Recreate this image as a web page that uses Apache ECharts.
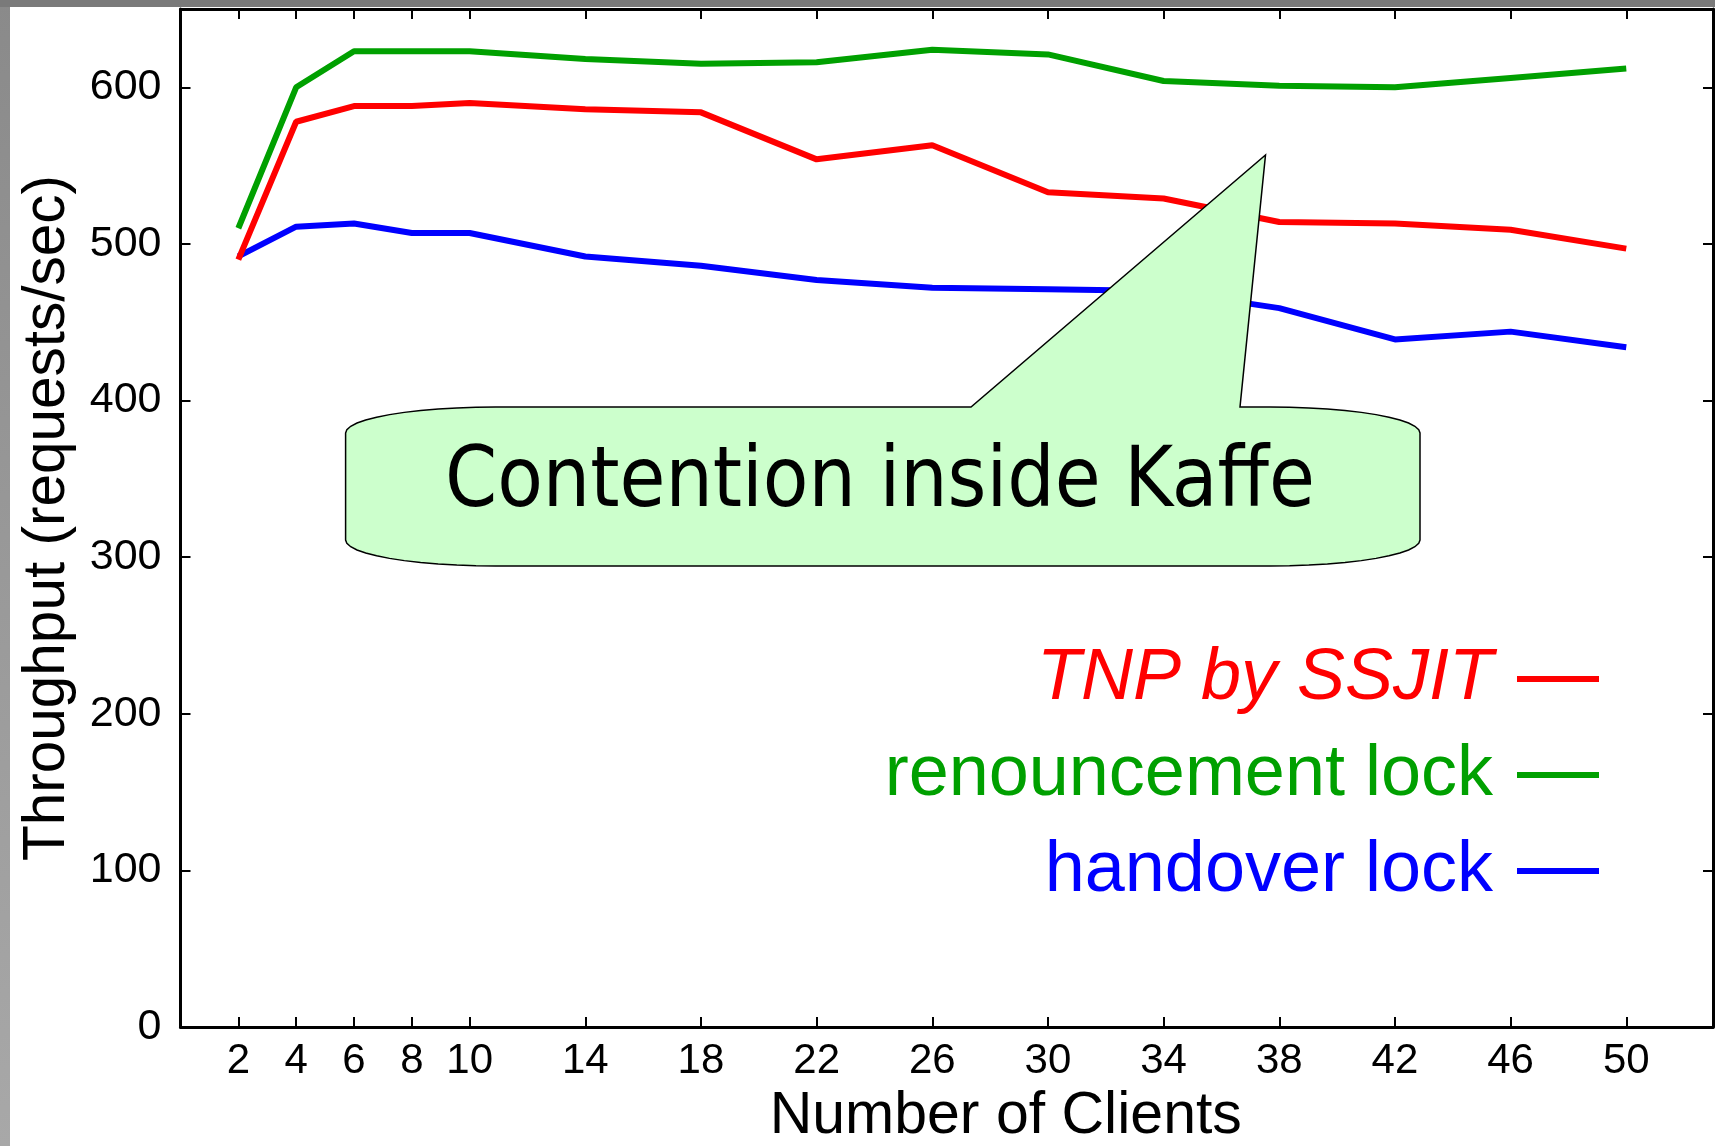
<!DOCTYPE html>
<html>
<head>
<meta charset="utf-8">
<script src="https://cdn.jsdelivr.net/npm/echarts@6/dist/echarts.min.js"></script>
<style>
    html, body { margin: 0; padding: 0; background: #fff; }
    #main { width: 1715px; height: 1146px; }
</style>
</head>
<body>
<div id="main"></div>
<script>
// data
var clients = [2, 4, 6, 8, 10, 14, 18, 22, 26, 30, 34, 38, 42, 46, 50];
var tnpSsjit = [490, 578, 588, 588, 590, 586, 584, 554, 563, 533, 529, 514, 513, 509, 497];
var renouncementLock = [510, 600, 623, 623, 623, 618, 615, 616, 624, 621, 604, 601, 600, 606, 612];
var handoverLock = [492, 511, 513, 507, 507, 492, 486, 477, 472, 471, 470, 459, 439, 444, 434];

var xTicks = [2, 4, 6, 8, 10, 14, 18, 22, 26, 30, 34, 38, 42, 46, 50];
var yTicks = [0, 100, 200, 300, 400, 500, 600];

var names = ['TNP by SSJIT', 'renouncement lock', 'handover lock'];
var colors = ['#ff0000', '#00a000', '#0000ff'];

function pairs(ys) {
    var res = [];
    for (var i = 0; i < clients.length; i++) {
        res.push([clients[i], ys[i]]);
    }
    return res;
}

var font = 'Liberation Sans, Arial, sans-serif';
var black = '#000';

/*x axis: bottom one with labels, top one only mirrors the ticks*/
function xAxisOf(pos) {
    var bottom = pos === 'bottom';
    return {
        type: 'value',
        position: pos,
        min: 0,
        max: 53,
        axisLine: {show: true, onZero: false, lineStyle: {color: black, width: 3}},
        axisTick: {show: true, inside: true, length: 10, customValues: xTicks,
            lineStyle: {color: black, width: 2}},
        axisLabel: {show: bottom, customValues: xTicks, margin: 13,
            fontSize: 42, color: black, fontFamily: font},
        splitLine: {show: false},
        name: bottom ? 'Number of Clients' : '',
        nameLocation: 'middle',
        nameGap: 87,
        nameTextStyle: {fontSize: 59, color: black, fontFamily: font,
            verticalAlign: 'middle', padding: [0, 0, 0, 118]}
    };
}

function yAxisOf(pos) {
    var left = pos === 'left';
    return {
        type: 'value',
        position: pos,
        min: 0,
        max: 650,
        axisLine: {show: true, onZero: false, lineStyle: {color: black, width: 3}},
        axisTick: {show: true, inside: true, length: 10, customValues: yTicks,
            lineStyle: {color: black, width: 2}},
        axisLabel: {show: left, customValues: yTicks, margin: 19,
            fontSize: 43, color: black, fontFamily: font},
        splitLine: {show: false},
        name: left ? 'Throughput (requests/sec)' : '',
        nameLocation: 'middle',
        nameGap: 133,
        nameTextStyle: {fontSize: 58.5, color: black, fontFamily: font, verticalAlign: 'middle'}
    };
}

var seriesData = [tnpSsjit, renouncementLock, handoverLock];
var series = [];
for (var i = 0; i < names.length; i++) {
    series.push({
        name: names[i],
        type: 'line',
        data: pairs(seriesData[i]),
        showSymbol: false,
        color: colors[i],
        lineStyle: {width: 6, color: colors[i]},
        z: 3 - i
    });
}

// callout bubble outline in pixels (annotation shape, not data)
var L = 345.6, R = 1420, T = 407, B = 566, rx = 150, ry = 26;
function corner(cx, cy, a0, a1, pts) {
    for (var s = 0; s <= 12; s++) {
        var a = a0 + (a1 - a0) * s / 12;
        pts.push([cx + rx * Math.cos(a), cy + ry * Math.sin(a)]);
    }
}
var bubble = [];
corner(L + rx, T + ry, Math.PI, Math.PI * 1.5, bubble);
bubble.push([971, T], [1265.5, 155], [1240, T]);
corner(R - rx, T + ry, Math.PI * 1.5, Math.PI * 2, bubble);
corner(R - rx, B - ry, 0, Math.PI * 0.5, bubble);
corner(L + rx, B - ry, Math.PI * 0.5, Math.PI, bubble);

var dom = document.getElementById('main');
var myChart = echarts.init(dom);
var option = {
    animation: false,
    backgroundColor: '#fff',
    grid: {left: 180.5, top: 9, right: 2, bottom: 119, containLabel: false, outerBoundsMode: 'none'},
    xAxis: [xAxisOf('bottom'), xAxisOf('top')],
    yAxis: [yAxisOf('left'), yAxisOf('right')],
    legend: {
        orient: 'vertical',
        align: 'right',
        right: 116,
        top: 641,
        padding: 0,
        itemGap: 20,
        itemWidth: 82,
        itemHeight: 6,
        icon: 'rect',
        textStyle: {fontSize: 72, lineHeight: 76, fontFamily: font, padding: [0, 19, 0, 0]},
        data: [
            {name: names[0], textStyle: {color: colors[0], fontStyle: 'italic'}},
            {name: names[1], textStyle: {color: colors[1]}},
            {name: names[2], textStyle: {color: colors[2]}}
        ]
    },
    graphic: [
        {type: 'rect', z: 100, shape: {x: 0, y: 0, width: 10, height: 1146},
            style: {fill: new echarts.graphic.LinearGradient(0, 0, 0, 1, [
                {offset: 0, color: '#8a8a8a'}, {offset: 1, color: '#a8a8a8'}])}},
        {type: 'rect', z: 100, shape: {x: 0, y: 0, width: 1715, height: 7},
            style: {fill: '#7a7a7a'}},
        {type: 'polygon', z: 100, shape: {points: bubble},
            style: {fill: '#ccffcc', stroke: black, lineWidth: 1.5}},
        {type: 'text', z: 101, x: 880, y: 484,
            style: {text: 'Contention inside Kaffe', fill: black,
                font: '83px "DejaVu Sans Condensed", "DejaVu Sans", sans-serif',
                align: 'center', verticalAlign: 'middle'}}
    ],
    series: series
};
myChart.setOption(option);
</script>
</body>
</html>
